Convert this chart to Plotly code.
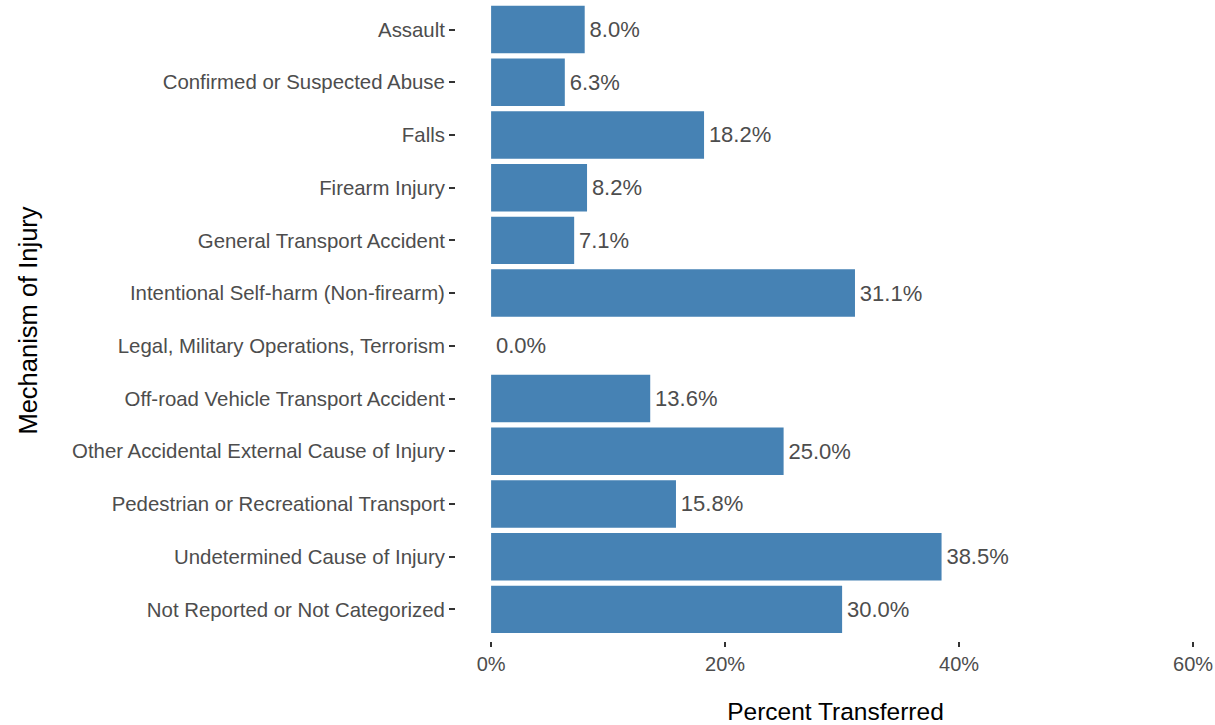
import plotly.graph_objects as go

categories = [
    "Assault",
    "Confirmed or Suspected Abuse",
    "Falls",
    "Firearm Injury",
    "General Transport Accident",
    "Intentional Self-harm (Non-firearm)",
    "Legal, Military Operations, Terrorism",
    "Off-road Vehicle Transport Accident",
    "Other Accidental External Cause of Injury",
    "Pedestrian or Recreational Transport",
    "Undetermined Cause of Injury",
    "Not Reported or Not Categorized",
]
percent_transferred = [8.0, 6.3, 18.2, 8.2, 7.1, 31.1, 0.0, 13.6, 25.0, 15.8, 38.5, 30.0]
x_tick_values = [0, 20, 40, 60]
x_tick_labels = ["0%", "20%", "40%", "60%"]

FONT = "Liberation Sans, Arial, sans-serif"
GREY = "#4D4D4D"

fig = go.Figure(
    go.Bar(
        y=categories,
        x=percent_transferred,
        orientation="h",
        width=0.9,
        marker=dict(color="#4682B4", line=dict(width=0)),
        text=[f"\u200a{v:.1f}%" for v in percent_transferred],
        textposition="outside",
        textfont=dict(family=FONT, size=22, color=GREY),
        cliponaxis=False,
        constraintext="none",
        hoverinfo="skip",
    )
)

fig.update_layout(
    width=1215,
    height=725,
    paper_bgcolor="white",
    plot_bgcolor="white",
    margin=dict(l=456, r=0, t=0, b=84),
    showlegend=False,
    font=dict(family=FONT, color=GREY),
    xaxis=dict(
        range=[-3, 61.87],
        automargin=False,
        tickvals=x_tick_values,
        ticktext=x_tick_labels,
        ticks="outside",
        ticklen=5,
        tickwidth=1.5,
        tickcolor="#333333",
        tickfont=dict(family=FONT, size=20, color=GREY),
        showgrid=False,
        zeroline=False,
        showline=False,
        title=dict(text="Percent Transferred", font=dict(family=FONT, size=24.5, color="black"), standoff=28),
    ),
    yaxis=dict(
        type="category",
        categoryorder="array",
        categoryarray=categories,
        range=[11.6, -0.56],
        automargin=False,
        ticks="outside",
        ticklen=6,
        tickwidth=1.5,
        tickcolor="#333333",
        tickfont=dict(family=FONT, size=20.4, color=GREY),
        showgrid=False,
        zeroline=False,
        showline=False,
        title=dict(text="Mechanism of Injury", font=dict(family=FONT, size=25.5, color="black"), standoff=27),
    ),
)

fig.write_html(
    "out.html",
    config={"displayModeBar": False},
    post_script="document.body.style.margin='0';document.body.style.padding='0';",
)
